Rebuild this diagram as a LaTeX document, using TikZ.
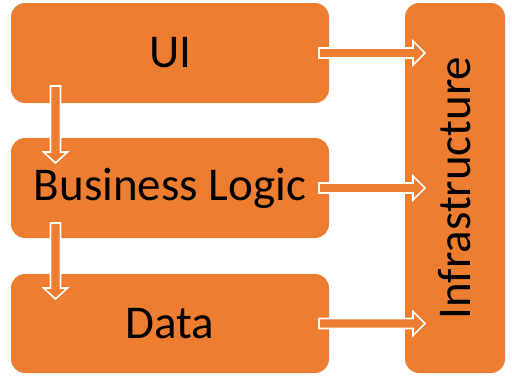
\documentclass[tikz,border=0pt]{standalone}
\usepackage{fontspec}
\setmainfont{Carlito}
\usetikzlibrary{calc}
\definecolor{boxorange}{HTML}{ED7D31}
\tikzset{
  layerbox/.style={fill=boxorange, rounded corners=14pt, inner sep=0pt, outer sep=0pt,
    font=\fontsize{47}{56}\selectfont, text=black},
  blockarrow/.style={fill=boxorange, draw=white, line width=1.6pt, line join=miter}
}
\begin{document}
\begin{tikzpicture}[x=1pt,y=-1pt]
\useasboundingbox (0,0) rectangle (512,380);
\node[layerbox, minimum width=318pt, minimum height=100pt] (ui) at (170,53) {UI};
\node[layerbox, minimum width=318pt, minimum height=100pt] (bl) at (170,188) {Business Logic};
\node[layerbox, minimum width=318pt, minimum height=99pt] (data) at (170,323.5) {Data};
\node[layerbox, minimum width=100pt, minimum height=370pt] (infra) at (455,188) {\rotatebox{90}{Infrastructure}};
% connector endpoints
\coordinate (a1) at ($(ui.east)+(-10,0)$);
\coordinate (b1) at ($(infra.west |- ui.east)+(20,0)$);
\coordinate (a2) at ($(bl.east)+(-10,0)$);
\coordinate (b2) at ($(infra.west |- bl.east)+(20,0)$);
\coordinate (a3) at ($(data.east)+(-10,0)$);
\coordinate (b3) at ($(infra.west |- data.east)+(20,0)$);
\coordinate (v1s) at ($(ui.south west)+(44.5,-17)$);
\coordinate (v1e) at ($(bl.north west)+(44.5,25)$);
\coordinate (v2s) at ($(bl.south west)+(44.5,-15)$);
\coordinate (v2e) at ($(data.north west)+(44.5,25)$);
% horizontal block arrows
\foreach \s/\e in {a1/b1,a2/b2,a3/b3}{
  \draw[blockarrow] ($(\s)+(0,-5)$) -- ($(\e)+(-12,-5)$) -- ($(\e)+(-12,-12)$) -- (\e)
    -- ($(\e)+(-12,12)$) -- ($(\e)+(-12,5)$) -- ($(\s)+(0,5)$) -- cycle;
}
% vertical block arrows
\foreach \s/\e in {v1s/v1e,v2s/v2e}{
  \draw[blockarrow] ($(\s)+(-5,0)$) -- ($(\e)+(-5,-11)$) -- ($(\e)+(-12,-11)$) -- (\e)
    -- ($(\e)+(12,-11)$) -- ($(\e)+(5,-11)$) -- ($(\s)+(5,0)$) -- cycle;
}
\end{tikzpicture}
\end{document}
